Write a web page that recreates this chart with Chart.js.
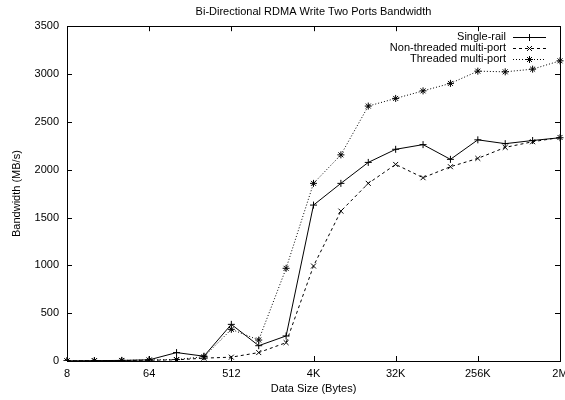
<!DOCTYPE html>
<html>
<head>
<meta charset="utf-8">
<script src="https://cdn.jsdelivr.net/npm/chart.js@4/dist/chart.umd.min.js"></script>
<style>
  html, body { margin: 0; padding: 0; background: #fff; }
  #wrap { width: 565px; height: 400px; }
</style>
</head>
<body>
<div id="wrap"><canvas id="c" width="565" height="400"></canvas></div>
<script>
// ---- data ----
const sizes = ['8','16','32','64','128','256','512','1K','2K','4K','8K','16K','32K','64K','128K','256K','512K','1M','2M'];
const tickLabels = ['8','64','512','4K','32K','256K','2M'];
const singleRail = [2, 4, 6, 12, 88, 50, 383, 160, 262, 1630, 1857, 2076, 2213, 2262, 2108, 2312, 2272, 2305, 2334];
const nonThreaded = [1, 3, 5, 8, 12, 30, 40, 88, 192, 993, 1567, 1857, 2055, 1916, 2031, 2118, 2233, 2292, 2337];
const threaded = [1, 3, 6, 10, 15, 45, 331, 219, 969, 1857, 2155, 2665, 2745, 2824, 2902, 3030, 3023, 3051, 3138];
const yTicks = [0, 500, 1000, 1500, 2000, 2500, 3000, 3500];

const FONT = 'Liberation Sans, Arial, Helvetica, sans-serif';
const FS = 11;

const framePlugin = {
  id: 'frame',
  afterDatasetsDraw(chart) {
    const ctx = chart.ctx;
    const a = chart.chartArea;
    const xs = chart.scales.x, ys = chart.scales.y;
    ctx.save();
    ctx.strokeStyle = '#000';
    ctx.lineWidth = 1;
    ctx.setLineDash([]);
    ctx.strokeRect(Math.round(a.left) + 0.5, Math.round(a.top) + 0.5,
                   Math.round(a.right - a.left), Math.round(a.bottom - a.top));
    const tl = 5;
    ctx.beginPath();
    yTicks.forEach(v => {
      const y = Math.round(ys.getPixelForValue(v)) + 0.5;
      ctx.moveTo(a.left, y); ctx.lineTo(a.left + tl, y);
      ctx.moveTo(a.right, y); ctx.lineTo(a.right - tl, y);
    });
    tickLabels.forEach(lbl => {
      const idx = sizes.indexOf(lbl);
      const x = Math.round(xs.getPixelForValue(idx)) + 0.5;
      ctx.moveTo(x, a.bottom); ctx.lineTo(x, a.bottom - tl);
      ctx.moveTo(x, a.top); ctx.lineTo(x, a.top + tl);
    });
    ctx.stroke();

    // legend
    const rows = [37, 48, 59];
    ctx.font = FS + 'px ' + FONT;
    ctx.fillStyle = '#000';
    ctx.textAlign = 'right';
    ctx.textBaseline = 'middle';
    chart.data.datasets.forEach((ds, i) => {
      const y = rows[i];
      ctx.fillText(ds.label, 506, y);
      ctx.beginPath();
      ctx.setLineDash(ds.borderDash || []);
      ctx.moveTo(513, y + 0.5); ctx.lineTo(546, y + 0.5);
      ctx.stroke();
      ctx.setLineDash([]);
      Chart.helpers.drawPoint(ctx, {pointStyle: ds.pointStyle, radius: ds.pointRadius, borderWidth: 1, rotation: 0}, 529.5, y + 0.5);
    });
    ctx.restore();
  }
};

const mk = (label, data, dash, style) => ({
  label, data,
  borderColor: '#000', backgroundColor: '#000',
  borderWidth: 1, borderDash: dash,
  pointStyle: style, pointRadius: 3.5, pointBorderWidth: 1,
  pointBorderColor: '#000', pointBackgroundColor: '#000',
  tension: 0, fill: false
});

new Chart(document.getElementById('c'), {
  type: 'line',
  data: {
    labels: sizes,
    datasets: [
      mk('Single-rail', singleRail, [], 'cross'),
      mk('Non-threaded multi-port', nonThreaded, [3, 3], 'crossRot'),
      mk('Threaded multi-port', threaded, [1, 2], 'star')
    ]
  },
  options: {
    responsive: false,
    animation: false,
    devicePixelRatio: 1,
    layout: { padding: { left: 0, right: 5, top: 0, bottom: 0 } },
    plugins: {
      legend: { display: false },
      tooltip: { enabled: false },
      title: {
        display: true,
        text: 'Bi-Directional RDMA Write Two Ports Bandwidth',
        fullSize: false,
        color: '#000',
        font: { family: FONT, size: FS, weight: 'normal' },
        padding: { top: 5, bottom: 8 }
      }
    },
    scales: {
      x: {
        type: 'category',
        offset: false,
        grid: { display: false, drawTicks: false },
        border: { display: true, color: '#000' },
        ticks: {
          autoSkip: false, maxRotation: 0, padding: 6, color: '#000',
          font: { family: FONT, size: FS },
          callback: function(val, idx) { const l = sizes[idx]; return tickLabels.includes(l) ? l : ''; }
        },
        title: {
          display: true, text: 'Data Size (Bytes)', color: '#000',
          font: { family: FONT, size: FS }, padding: { top: 2, bottom: 4 }
        },
        afterFit(scale) { scale.height = 39; scale.paddingLeft = 0; scale.paddingRight = 0; }
      },
      y: {
        min: 0, max: 3500,
        grid: { display: false, drawTicks: false },
        border: { display: true, color: '#000' },
        ticks: {
          stepSize: 500, padding: 8, color: '#000',
          font: { family: FONT, size: FS },
          callback: v => String(v)
        },
        title: {
          display: true, text: 'Bandwidth (MB/s)', color: '#000',
          font: { family: FONT, size: FS }, padding: { top: 10, bottom: 4 }
        },
        afterFit(scale) { scale.width = 67; }
      }
    }
  },
  plugins: [framePlugin]
});
</script>
</body>
</html>
